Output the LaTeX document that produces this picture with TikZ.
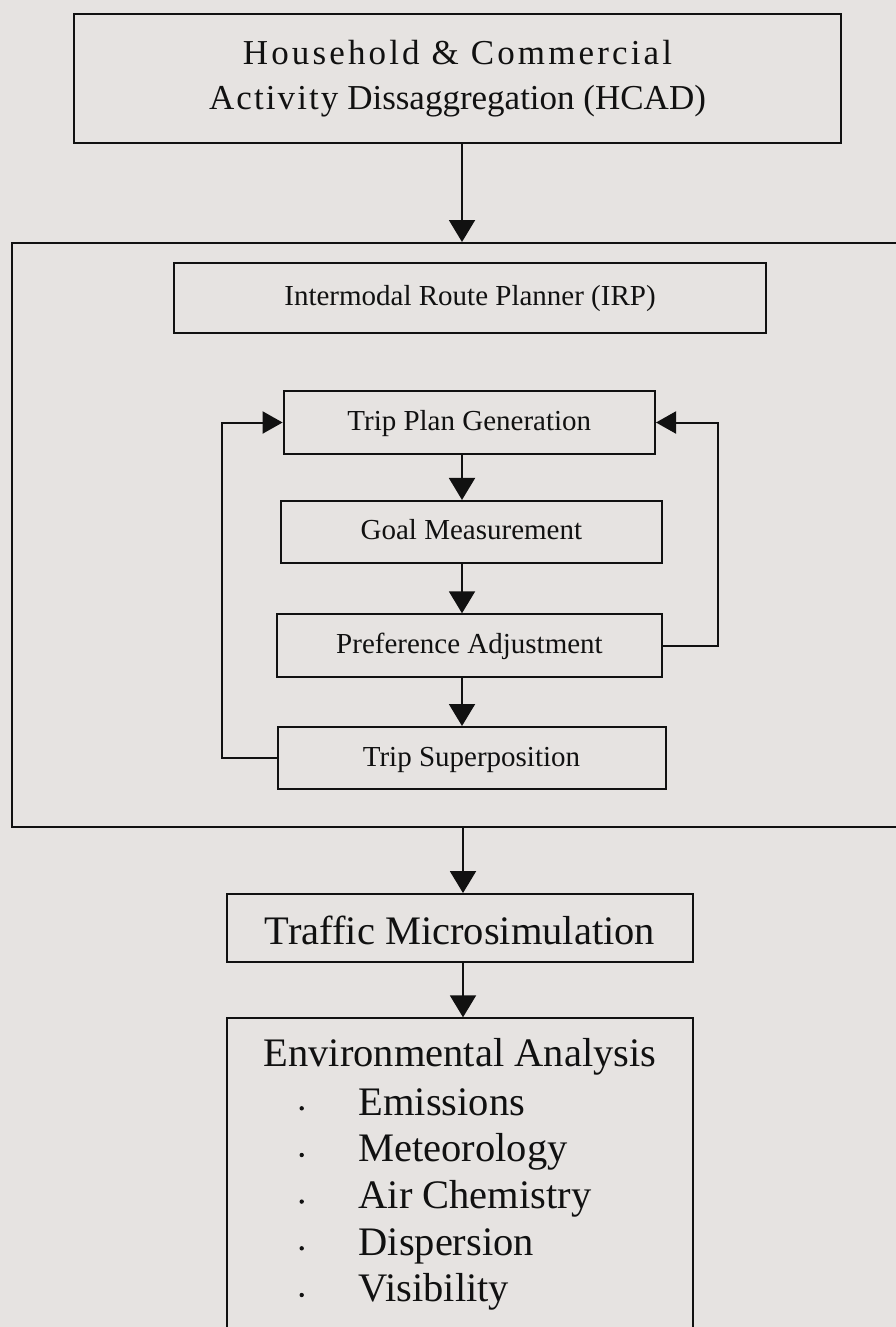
\documentclass[tikz,border=0pt]{standalone}
\usepackage{fontspec}
\setmainfont{Liberation Serif}
\newfontfamily\spacedwide[LetterSpace=9]{Liberation Serif}
\newfontfamily\spacedmid[LetterSpace=6]{Liberation Serif}
\usetikzlibrary{arrows.meta}
\definecolor{paper}{RGB}{230,227,225}
\definecolor{ink}{RGB}{17,17,17}

\begin{document}
\begin{tikzpicture}[x=1pt,y=-1pt,
  box/.style={draw=ink, line width=2pt, fill=paper, inner sep=0pt, text=ink},
  small/.style={font=\fontsize{29}{35}\selectfont},
  large/.style={font=\fontsize{40.5}{48}\selectfont},
  stage/.style={box, small, text height=22pt, text depth=5.8pt},
  label/.style={large, inner sep=0pt, text=ink},
  flow/.style={draw=ink, line width=2pt, -{Triangle[length=22pt,width=26pt]}},
  loop/.style={draw=ink, line width=2pt, -{Triangle[length=20pt,width=22pt]}},
  dot/.style={circle, fill=ink, inner sep=0pt, minimum size=4.4pt},
]
\useasboundingbox (0,0) rectangle (896,1327);
\clip (0,0) rectangle (896,1327);
\fill[paper] (0,0) rectangle (896,1327);

% guide lines for the vertical flow arrows
\coordinate (spine) at (462,0);
\coordinate (spinelow) at (463,0);

% top stage
\node[box, minimum width=767pt, minimum height=129pt, align=center,
      font=\fontsize{35}{45}\selectfont] (hcad) at (457.5,78.5)
  {{\spacedwide Household \& Commercial}\\{\spacedmid Activity} Dissaggregation (HCAD)};

% planner frame (runs off the right edge)
\node[box, anchor=north west, minimum width=930pt, minimum height=584pt] (planner) at (11,242) {};

\node[box, small, minimum width=592pt, minimum height=69.5pt,
      text height=20pt, text depth=6pt] (irp) at (470,298) {Intermodal Route Planner (IRP)};

\node[stage, minimum width=371.4pt, minimum height=63pt]   (tpg) at (469.3,422.5) {Trip Plan Generation};
\node[stage, minimum width=380.7pt, minimum height=61.7pt] (gm)  at (471.4,531.8) {Goal Measurement};
\node[stage, minimum width=384.3pt, minimum height=62.4pt] (pa)  at (469.5,645.5) {Preference Adjustment};
\node[stage, minimum width=388pt,   minimum height=62pt]   (ts)  at (471.5,758)   {Trip Superposition};

% traffic and environment stages
\node[box, large, minimum width=466.6pt, minimum height=68.3pt,
      text height=40pt, text depth=8.4pt] (traffic) at (460,928.2) {Traffic Microsimulation};

\node[box, anchor=north, minimum width=466.6pt, minimum height=360pt] (env) at (460,1017.3) {};
\node[label, anchor=base] (envtitle) at (460,1066.7) {Environmental Analysis};
\foreach \name/\txt/\yy in {emis/Emissions/1115, meteo/Meteorology/1161.7,
    chem/Air Chemistry/1208.3, disp/Dispersion/1255, vis/Visibility/1301.7} {
  \node[label, anchor=base west] (\name) at (358.3,\yy) {\txt};
  \node[dot] (\name-dot) at (301.7,\yy-6.7) {};
}

% connectors
\draw[flow] (hcad.south -| spine) -- (planner.north -| spine);
\draw[flow] (tpg.south -| spine) -- (gm.north -| spine);
\draw[flow] (gm.south -| spine) -- (pa.north -| spine);
\draw[flow] (pa.south -| spine) -- (ts.north -| spine);
\draw[loop] (ts.west) -- ++(-55,0) |- (tpg.west);
\draw[loop] (pa.east) -- ++(55,0) |- (tpg.east);
\draw[flow] (planner.south -| spinelow) -- (traffic.north -| spinelow);
\draw[flow] (traffic.south -| spinelow) -- (env.north -| spinelow);
\end{tikzpicture}
\end{document}
